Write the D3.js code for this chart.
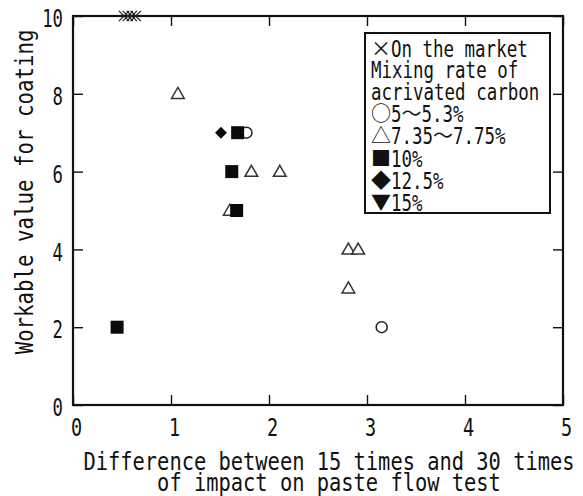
<!DOCTYPE html>
<html>
<head>
<meta charset="utf-8">
<script src="https://cdn.jsdelivr.net/npm/d3@7/dist/d3.min.js"></script>
<style>
  html, body { margin: 0; padding: 0; background: #fff; }
  svg { display: block; }
</style>
</head>
<body>
<svg id="chart" width="583" height="496"></svg>
<script>
// ---- data ----
const xTicks = [0, 1, 2, 3, 4, 5];
const yTicks = [0, 2, 4, 6, 8, 10];

const marketX = [0.52, 0.56, 0.60, 0.64];
const marketY = [10, 10, 10, 10];

const circleX = [1.77, 3.15];
const circleY = [7, 2];

const triX = [1.07, 1.82, 2.11, 1.60, 2.81, 2.91, 2.81];
const triY = [8, 6, 6, 5, 4, 4, 3];

const sqX = [1.68, 1.62, 1.67, 0.45];
const sqY = [7, 6, 5, 2];

const diaX = [1.51];
const diaY = [7];

const xLabel = ["Difference between 15 times and 30 times", "of impact on paste flow test"];
const yLabel = "Workable value for coating";

// [text, isSymbol]
const legendLines = [
  [["×", true], ["On the market", false]],
  [["Mixing rate of", false]],
  [["acrivated carbon", false]],
  [["○", true], ["5", false], ["～", true], ["5.3%", false]],
  [["△", true], ["7.35", false], ["～", true], ["7.75%", false]],
  [["■", true], ["10%", false]],
  [["◆", true], ["12.5%", false]],
  [["▼", true], ["15%", false]]
];

// ---- chart ----
const svg = d3.select("#chart");
const MONO = "'DejaVu Sans Mono', 'Liberation Mono', monospace";
const CJK = "'Noto Sans CJK JP', 'Noto Sans CJK SC', sans-serif";

const x = d3.scaleLinear().domain([0, 5]).range([73, 563]);
const y = d3.scaleLinear().domain([0, 10]).range([405, 16]);

const zip = (a, b) => a.map((v, i) => [v, b[i]]);

// inward ticks on all four sides
function tickAxis(axis, tr) {
  const g = svg.append("g").attr("transform", tr).call(axis);
  g.select(".domain").remove();
  g.selectAll("line").attr("stroke", "#111").attr("stroke-width", 1.4);
  return g;
}
tickAxis(d3.axisBottom(x).tickValues(xTicks).tickSize(-10).tickFormat(""), `translate(0,${y(0)})`);
tickAxis(d3.axisTop(x).tickValues(xTicks).tickSize(-10).tickFormat(""), `translate(0,${y(10)})`);
tickAxis(d3.axisLeft(y).tickValues(yTicks).tickSize(-10).tickFormat(""), `translate(${x(0)},0)`);
tickAxis(d3.axisRight(y).tickValues(yTicks).tickSize(-10).tickFormat(""), `translate(${x(5)},0)`);

// tick labels
const xl = svg.append("g").attr("transform", `translate(3,${y(0)})`)
  .call(d3.axisBottom(x).tickValues(xTicks).tickSize(0).tickPadding(13).tickFormat(d3.format("d")));
xl.select(".domain").remove();
xl.selectAll("text").attr("font-family", MONO).attr("font-size", 25).attr("fill", "#111")
  .attr("transform", "scale(0.74,1)");

const yl = svg.append("g").attr("transform", `translate(${x(0)},3)`)
  .call(d3.axisLeft(y).tickValues(yTicks).tickSize(0).tickPadding(10).tickFormat(d3.format("d")));
yl.select(".domain").remove();
yl.selectAll("text").attr("font-family", MONO).attr("font-size", 24).attr("fill", "#111")
  .attr("transform", "scale(0.72,1)").attr("x", -10 / 0.72);

// frame
svg.append("rect")
  .attr("x", x(0)).attr("y", y(10))
  .attr("width", x(5) - x(0)).attr("height", y(0) - y(10))
  .attr("fill", "none").attr("stroke", "#111").attr("stroke-width", 2.2);

// axis titles
xLabel.forEach((t, i) => {
  svg.append("text")
    .attr("transform", `translate(329,${470 + i * 21}) scale(0.85,1)`)
    .attr("text-anchor", "middle")
    .attr("font-family", MONO).attr("font-size", 24).attr("fill", "#111")
    .text(t);
});
svg.append("text")
  .attr("transform", `translate(33,${192}) rotate(-90) scale(0.865,1)`)
  .attr("text-anchor", "middle")
  .attr("font-family", MONO).attr("font-size", 24).attr("fill", "#111")
  .text(yLabel);

// marks
const pts = svg.append("g");
pts.selectAll("circle.c").data(zip(circleX, circleY)).join("circle")
  .attr("cx", d => x(d[0])).attr("cy", d => y(d[1])).attr("r", 5.5)
  .attr("fill", "#fff").attr("stroke", "#222").attr("stroke-width", 1.5);

const triPath = d3.symbol().type(d3.symbolTriangle).size(70);
pts.selectAll("path.t").data(zip(triX, triY)).join("path")
  .attr("d", triPath)
  .attr("transform", d => `translate(${x(d[0])},${y(d[1]) + 1})`)
  .attr("fill", "#fff").attr("stroke", "#333").attr("stroke-width", 1.5);

pts.selectAll("rect.s").data(zip(sqX, sqY)).join("rect")
  .attr("x", d => x(d[0]) - 6.5).attr("y", d => y(d[1]) - 6.5)
  .attr("width", 13).attr("height", 13).attr("fill", "#0a0a0a");

pts.selectAll("path.d").data(zip(diaX, diaY)).join("path")
  .attr("d", d3.symbol().type(d3.symbolDiamond2).size(90))
  .attr("transform", d => `translate(${x(d[0])},${y(d[1])})`)
  .attr("fill", "#0a0a0a");

const cross = d3.symbol().type(d3.symbolTimes).size(70);
pts.selectAll("path.x").data(zip(marketX, marketY)).join("path")
  .attr("d", cross)
  .attr("transform", d => `translate(${x(d[0])},${y(d[1])})`)
  .attr("fill", "none").attr("stroke", "#222").attr("stroke-width", 1.3);

// legend
const lg = svg.append("g");
const box = { x: 365, y: 33, w: 185, h: 180 };
svg.append("clipPath").attr("id", "lgclip").append("rect")
  .attr("x", box.x).attr("y", box.y).attr("width", box.w).attr("height", box.h);
lg.append("rect").attr("x", box.x).attr("y", box.y).attr("width", box.w).attr("height", box.h)
  .attr("fill", "#fff");
const lgText = lg.append("g").attr("clip-path", "url(#lgclip)");
const baselines = [57, 78, 100, 122, 144, 167, 189, 211];
const PITCH = 10.5, SYM = 20;
legendLines.forEach((parts, i) => {
  let cx = 371;
  parts.forEach(([s, sym]) => {
    if (sym) {
      lgText.append("text")
        .attr("x", cx + SYM / 2).attr("y", baselines[i] - 1)
        .attr("text-anchor", "middle")
        .attr("font-family", CJK).attr("font-size", 20).attr("fill", "#111")
        .text(s);
      cx += SYM;
    } else {
      lgText.append("text")
        .attr("transform", `translate(${cx},${baselines[i]}) scale(0.76,1)`)
        .attr("font-family", MONO).attr("font-size", 23).attr("fill", "#111")
        .text(s);
      cx += s.length * PITCH;
    }
  });
});
lg.append("rect").attr("x", box.x).attr("y", box.y).attr("width", box.w).attr("height", box.h)
  .attr("fill", "none").attr("stroke", "#111").attr("stroke-width", 2);
</script>
</body>
</html>
